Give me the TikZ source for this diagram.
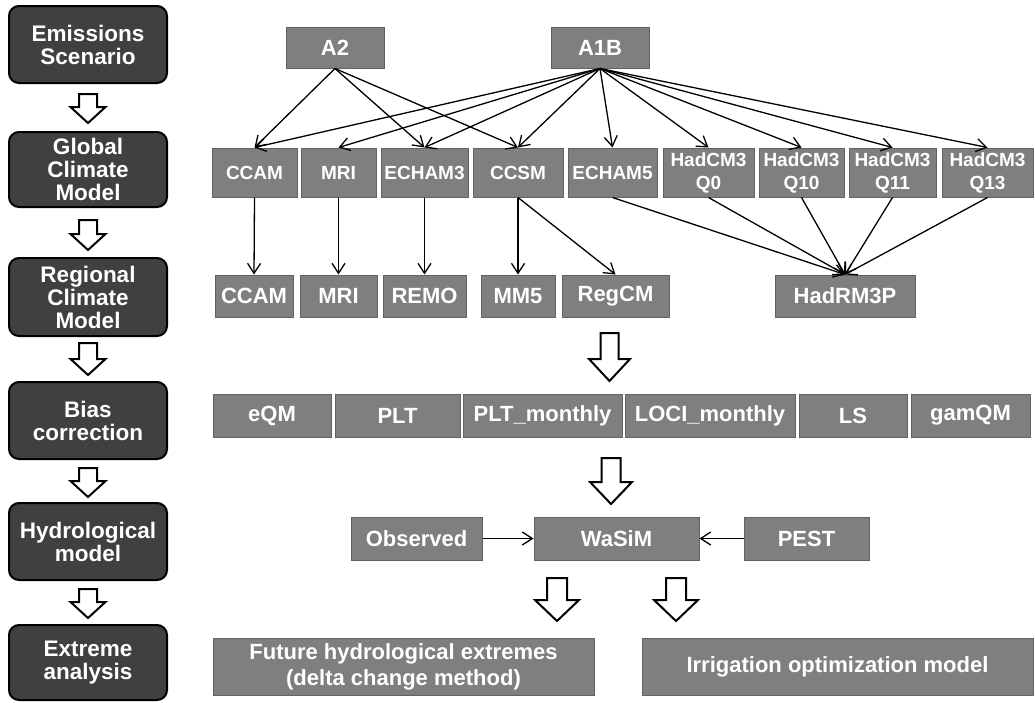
\documentclass[tikz,border=0pt]{standalone}
\usepackage{fontspec}
\setmainfont{Liberation Sans}
\usetikzlibrary{arrows.meta}

\definecolor{stagefill}{HTML}{404040}
\definecolor{itemfill}{HTML}{7F7F7F}
\definecolor{itemline}{HTML}{626262}

% Hollow block arrow: x, top y, tip y, shaft half-width, head half-width, head length
\newcommand\blkarrow[6]{%
  \draw[blockarrow] (#1-#4,#2) -- (#1+#4,#2) -- (#1+#4,#3-#6) -- (#1+#5,#3-#6)
    -- (#1,#3) -- (#1-#5,#3-#6) -- (#1-#4,#3-#6) -- cycle;}

\tikzset{
  stage/.style={draw=black, line width=2pt, rounded corners=10pt, fill=stagefill,
    text=white, font=\fontsize{22.5}{23}\selectfont\bfseries, align=center,
    inner sep=0pt, minimum width=158pt},
  item/.style={draw=itemline, line width=1pt, fill=itemfill, text=white,
    font=\fontsize{22}{26}\selectfont\bfseries, align=center, inner sep=0pt},
  gcm/.style={item, font=\fontsize{19}{23}\selectfont\bfseries, minimum height=49pt},
  rcm/.style={item, minimum height=42pt},
  bc/.style={item, minimum height=43pt},
  link/.style={-{Straight Barb[length=10pt,width=13pt]}, line width=1.3pt, black},
  blockarrow/.style={draw=black, line width=2pt, fill=white, line join=miter},
}

\begin{document}
\begin{tikzpicture}[x=1pt, y=-1pt]
\useasboundingbox (0,0) rectangle (1035,702);

% ---- stage column ----
\node[stage, minimum height=77pt] (es)   at (88,44.5)  {Emissions\\Scenario};
\node[stage, minimum height=75pt] (gcmS) at (88,169.5) {Global\\Climate\\Model};
\node[stage, minimum height=78pt] (rcmS) at (88,297)   {Regional\\Climate\\Model};
\node[stage, minimum height=77pt] (bias) at (88,420.5) {Bias\\correction};
\node[stage, minimum height=77pt] (hyd)  at (88,541.5) {Hydrological\\model};
\node[stage, minimum height=75pt] (ext)  at (88,662.5) {Extreme\\analysis};

\blkarrow{88}{94}{123}{9}{17.5}{16}
\blkarrow{88}{220}{250}{9}{17.5}{16}
\blkarrow{88}{343}{375}{9}{17.5}{16}
\blkarrow{88}{468}{497}{9}{17.5}{16}
\blkarrow{88}{589}{618}{9}{17.5}{16}

% ---- emission scenarios ----
\node[item, minimum width=98pt, minimum height=41pt] (a2)  at (335,47.5) {A2};
\node[item, minimum width=98pt, minimum height=41pt] (a1b) at (600,47.5) {A1B};

% ---- global climate models ----
\node[gcm, minimum width=85pt] (gccam)   at (254.5,172.5) {CCAM};
\node[gcm, minimum width=75pt] (gmri)    at (338.5,172.5) {MRI};
\node[gcm, minimum width=87pt] (gecham3) at (424.5,172.5) {ECHAM3};
\node[gcm, minimum width=90pt] (gccsm)   at (518,172.5)   {CCSM};
\node[gcm, minimum width=89pt] (gecham5) at (612.5,172.5) {ECHAM5};
\node[gcm, minimum width=91pt] (q0)      at (708.5,172.5) {HadCM3\\Q0};
\node[gcm, minimum width=85pt] (q10)     at (801.5,172.5) {HadCM3\\Q10};
\node[gcm, minimum width=87pt] (q11)     at (892.5,172.5) {HadCM3\\Q11};
\node[gcm, minimum width=91pt] (q13)     at (987.5,172.5) {HadCM3\\Q13};

% ---- regional climate models ----
\node[rcm, minimum width=78pt]  (rccam)  at (254,296)   {CCAM};
\node[rcm, minimum width=77pt]  (rmri)   at (338.5,296) {MRI};
\node[rcm, minimum width=83pt]  (remo)   at (424.5,296) {REMO};
\node[rcm, minimum width=74pt]  (mm5)    at (518,296)   {MM5};
\node[rcm, minimum width=107pt] (regcm)  at (615.5,296) {RegCM};
\node[rcm, minimum width=140pt] (hadrm)  at (845,296)   {HadRM3P};

% scenario -> GCM
\foreach \t in {gccam,gecham3,gccsm}
  \draw[link] (a2.south) -- (\t.north);
\foreach \t in {gccam,gmri,gecham3,gccsm,gecham5,q0,q10,q11,q13}
  \draw[link] (a1b.south) -- (\t.north);

% GCM -> RCM
\draw[link] (gccam.south) -- (rccam.north);
\draw[link] (gmri.south) -- (rmri.north);
\draw[link] (gecham3.south) -- (remo.north);
\draw[link] (gccsm.south) -- (mm5.north);
\draw[link] (gccsm.south) -- (regcm.north);
\foreach \s in {gecham5,q0,q10,q11,q13}
  \draw[link] (\s.south) -- (hadrm.north);

\blkarrow{609.5}{333}{381}{9}{20.5}{22}

% ---- bias correction methods ----
\node[bc, minimum width=118pt] (eqm)   at (272,415.5)   {eQM};
\node[bc, minimum width=125pt] (plt)   at (397.5,415.5) {PLT};
\node[bc, minimum width=159pt] (pltm)  at (542.5,415.5) {PLT\_monthly};
\node[bc, minimum width=170pt] (loci)  at (710,415.5)   {LOCI\_monthly};
\node[bc, minimum width=108pt] (ls)    at (853,415.5)   {LS};
\node[bc, minimum width=119pt] (gamqm) at (970.5,415.5) {gamQM};

\blkarrow{611}{458}{504}{9.5}{21}{22}

% ---- hydrological model ----
\node[bc, minimum width=131pt] (obs)   at (416.5,538.5) {Observed};
\node[bc, minimum width=165pt] (wasim) at (616.5,538.5) {WaSiM};
\node[bc, minimum width=125pt] (pest)  at (806.5,538.5) {PEST};
\draw[link] (obs.east) -- (wasim.west);
\draw[link] (pest.west) -- (wasim.east);

\blkarrow{557}{578}{621}{10}{22}{21}
\blkarrow{676}{578}{621}{10}{22}{21}

% ---- applications ----
\node[item, minimum width=381pt, minimum height=57pt] (fut) at (403.5,666.5)
  {Future hydrological extremes\\(delta change method)};
\node[item, minimum width=391pt, minimum height=57pt] (irr) at (837.5,666.5)
  {Irrigation optimization model};
\end{tikzpicture}
\end{document}
